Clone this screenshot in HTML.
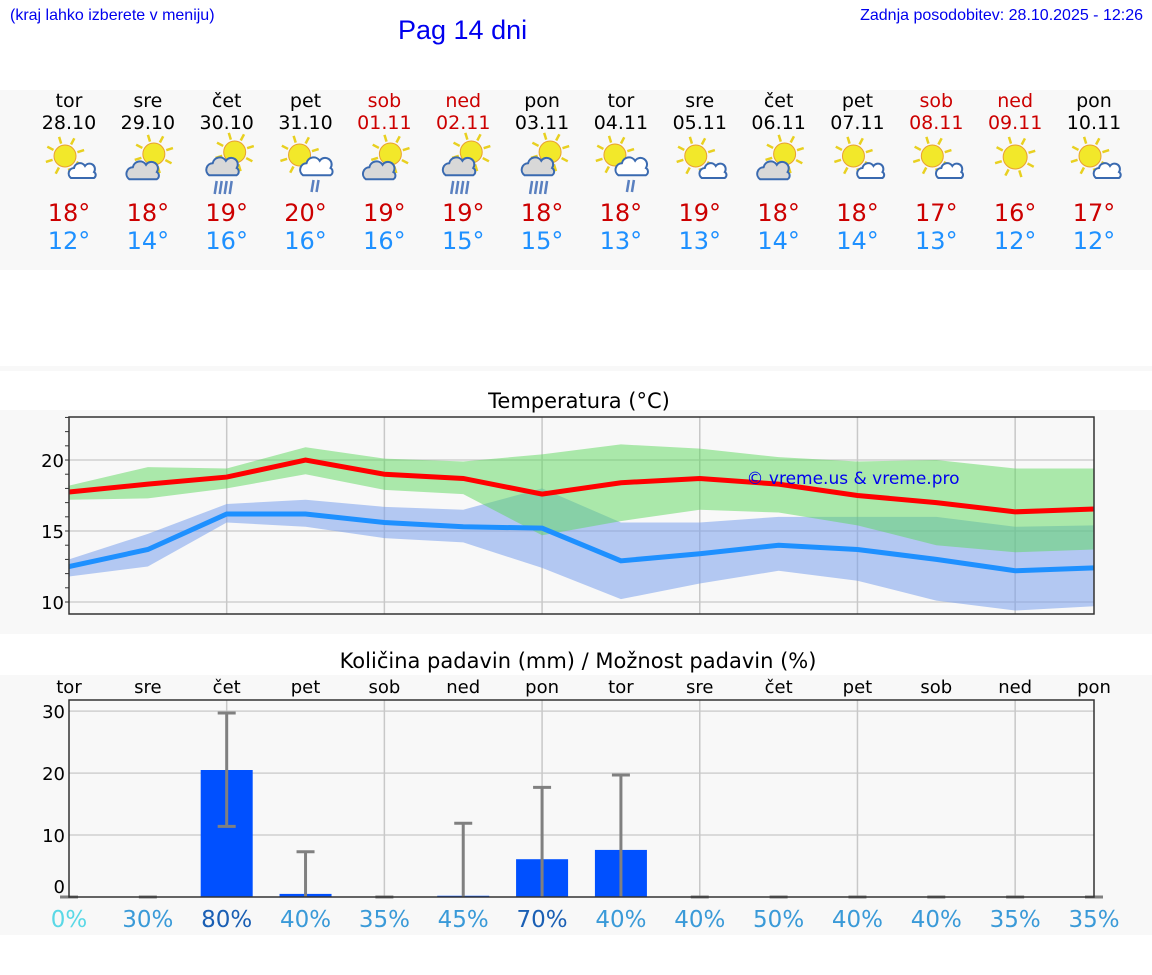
<!DOCTYPE html>
<html><head><meta charset="utf-8">
<style>
body{margin:0;background:#fff;width:1152px;height:975px;overflow:hidden;position:relative;font-family:"DejaVu Sans","Liberation Sans",sans-serif}
.hdr{position:absolute;font-family:"Liberation Sans",sans-serif;color:#0000ee}
</style></head><body>
<div class="hdr" style="left:10px;top:7px;font-size:16px">(kraj lahko izberete v meniju)</div>
<div class="hdr" style="left:398px;top:15px;font-size:27px">Pag 14 dni</div>
<div class="hdr" style="right:9px;top:7px;font-size:16px">Zadnja posodobitev: 28.10.2025 - 12:26</div>
<svg id="svg" width="1152" height="975" style="position:absolute;left:0;top:0" font-family="DejaVu Sans, sans-serif">
<rect x="0" y="90" width="1152" height="180" fill="#f8f8f8"/>
<rect x="0" y="366" width="1152" height="5" fill="#f8f8f8"/>
<rect x="0" y="410" width="1152" height="224" fill="#f8f8f8"/>
<rect x="0" y="675" width="1152" height="260" fill="#f8f8f8"/>
<g id="daily"></g>
<text x="579" y="408" font-size="21" text-anchor="middle">Temperatura (°C)</text>
<g id="temp"></g>
<text x="578" y="668" font-size="21" text-anchor="middle">Količina padavin (mm) / Možnost padavin (%)</text>
<g id="precip"></g>
</svg>
<script>
const days=["tor","sre","čet","pet","sob","ned","pon","tor","sre","čet","pet","sob","ned","pon"];
const dates=["28.10","29.10","30.10","31.10","01.11","02.11","03.11","04.11","05.11","06.11","07.11","08.11","09.11","10.11"];
const weekend=[0,0,0,0,1,1,0,0,0,0,0,1,1,0];
const hiLabel=[18,18,19,20,19,19,18,18,19,18,18,17,16,17];
const loLabel=[12,14,16,16,16,15,15,13,13,14,14,13,12,12];
const icons=["sc","cs","r","sr","cs","r","r","sr","sc","cs","sc","sc","s","sc"];
const tMax=[17.75,18.3,18.8,20.0,19.0,18.7,17.6,18.4,18.7,18.3,17.5,17.0,16.35,16.55];
const tMaxHi=[18.2,19.5,19.4,20.9,20.1,19.9,20.4,21.1,20.8,20.2,19.9,20.0,19.4,19.4];
const tMaxLo=[17.2,17.3,18.0,19.0,17.9,17.6,14.7,15.7,16.5,16.3,15.4,14.0,13.5,13.7];
const tMin=[12.5,13.7,16.2,16.2,15.6,15.3,15.2,12.9,13.4,14.0,13.7,13.0,12.2,12.4];
const tMinHi=[13.0,14.8,16.9,17.2,16.7,16.5,18.0,15.6,15.6,16.0,16.0,16.0,15.3,15.4];
const tMinLo=[11.8,12.5,15.6,15.3,14.5,14.2,12.4,10.2,11.3,12.2,11.5,10.1,9.4,9.7];
const rain=[0,0,20.5,0.5,0,0.2,6.1,7.6,0,0,0,0,0,0];
const rainHi=[0,0,29.7,7.3,0,11.9,17.7,19.7,0,0,0,0,0,0];
const rainLo=[0,0,11.4,0,0,0,0,0,0,0,0,0,0,0];
const chance=[0,30,80,40,35,45,70,40,40,50,40,40,35,35];
const tTicks=[10,15,20];
const rTicks=[0,10,20,30];
const NS="http://www.w3.org/2000/svg";
function mk(p,t,a,txt){const e=document.createElementNS(NS,t);for(const k in a)e.setAttribute(k,a[k]);if(txt!==undefined)e.textContent=txt;p.appendChild(e);return e;}
const X0=69,X1=1094;
const xd=i=>X0+(X1-X0)*i/13;
const D=document.getElementById('daily');
function sun(g,cx,cy,r){for(let k=0;k<8;k++){const a=k*Math.PI/4-0.3;mk(g,'line',{x1:cx+Math.cos(a)*(r+2),y1:cy+Math.sin(a)*(r+2),x2:cx+Math.cos(a)*(r+9),y2:cy+Math.sin(a)*(r+9),stroke:'#e8d020','stroke-width':2.5});}mk(g,'circle',{cx:cx,cy:cy,r:r,fill:'#f2e82a',stroke:'#e8a030','stroke-width':1});}
function cloud(g,cx,cy,s,fill){mk(g,'path',{d:`M${cx-s*1.3},${cy+s*0.6} a${s*0.55},${s*0.55} 0 0 1 ${s*0.3},-${s*1.0} a${s*0.6},${s*0.6} 0 0 1 ${s*1.1},-${s*0.2} a${s*0.5},${s*0.5} 0 0 1 ${s*0.9},${s*0.6} a${s*0.35},${s*0.35} 0 0 1 0,${s*0.6} z`,fill:fill,stroke:'#3a6ab0','stroke-width':2});}
for(let i=0;i<14;i++){const x=xd(i),c=weekend[i]?'#cc0000':'#000';
 let t=mk(D,'text',{x:x,y:107,'font-size':19,'text-anchor':'middle',fill:c},days[i]);
 
 t=mk(D,'text',{x:x,y:129,'font-size':19,'text-anchor':'middle',fill:c},dates[i]);
 
 const g=mk(D,'g',{});
 const ic=icons[i];
 if(ic==='sc'){sun(g,x-4,156,11);cloud(g,x+15,172,10,'#fff');}
 else if(ic==='cs'){sun(g,x+6,154,11);cloud(g,x-3,172,12,'#d8d8d8');}
 else if(ic==='s'){sun(g,x,157,12);}
 else if(ic==='r'){sun(g,x+8,152,11);cloud(g,x-2,168,12,'#d8d8d8');for(let k=0;k<4;k++)mk(g,'line',{x1:x-10+k*5,y1:181,x2:x-12+k*5,y2:194,stroke:'#5a80c0','stroke-width':2.5});}
 else {sun(g,x-6,155,11);cloud(g,x+13,168,12,'#fff');for(let k=0;k<2;k++)mk(g,'line',{x1:x+8+k*5,y1:180,x2:x+6+k*5,y2:192,stroke:'#5a80c0','stroke-width':2.5});}
 t=mk(D,'text',{x:x,y:221,'font-size':24,'text-anchor':'middle',fill:'#cc0000'},hiLabel[i]+'°');
 
 t=mk(D,'text',{x:x,y:249,'font-size':24,'text-anchor':'middle',fill:'#1e90ff'},loLabel[i]+'°');
 
}
const T=document.getElementById('temp');
const TY0=417,TY1=614,tmin=9.155,tmax=23.03;
const ty=v=>TY1-(v-tmin)/(tmax-tmin)*(TY1-TY0);
mk(T,'rect',{x:X0,y:TY0,width:X1-X0,height:TY1-TY0,fill:'#f8f8f8'});
for(const v of tTicks){mk(T,'line',{x1:X0,x2:X1,y1:ty(v),y2:ty(v),stroke:'#d0d0d0','stroke-width':1.5});
 const t=mk(T,'text',{x:X0-5,y:ty(v)+7,'font-size':18,'text-anchor':'end'},v);}
for(let v=10;v<=23;v++)mk(T,'line',{x1:X0-4,x2:X0,y1:ty(v),y2:ty(v),stroke:'#333'});
for(let i=2;i<13;i+=2)mk(T,'line',{x1:xd(i),x2:xd(i),y1:TY0,y2:TY1,stroke:'#c8c8c8','stroke-width':1.5});
function band(hi,lo,fill,op,name){let d='';hi.forEach((v,i)=>d+=(i?'L':'M')+xd(i)+','+ty(v));for(let i=lo.length-1;i>=0;i--)d+='L'+xd(i)+','+ty(lo[i]);const p=mk(T,'path',{d:d+'Z',fill:fill,'fill-opacity':op});}
function line(vals,col,name){const p=mk(T,'polyline',{points:vals.map((v,i)=>xd(i)+','+ty(v)).join(' '),fill:'none',stroke:col,'stroke-width':5});}
band(tMinHi,tMinLo,'#7aa0ec',0.55,'min-temp-band');
band(tMaxHi,tMaxLo,'#5cd85c',0.5,'max-temp-band');
line(tMax,'#ff0000','max-temp-line');
line(tMin,'#1e90ff','min-temp-line');
let wm=mk(T,'text',{x:853,y:484,'font-size':17,'text-anchor':'middle',fill:'#0000ee'},'© vreme.us & vreme.pro');

mk(T,'rect',{x:X0,y:TY0,width:X1-X0,height:TY1-TY0,fill:'none',stroke:'#333','stroke-width':1.5});
const P=document.getElementById('precip');
const PY0=700,PY1=897,rmax=31.8;
const ry=v=>PY1-v/rmax*(PY1-PY0);
mk(P,'rect',{x:X0,y:PY0,width:X1-X0,height:PY1-PY0,fill:'#f8f8f8'});
for(const v of rTicks){if(v>0)mk(P,'line',{x1:X0,x2:X1,y1:ry(v),y2:ry(v),stroke:'#d0d0d0','stroke-width':1.5});
 const t=mk(P,'text',{x:X0-4,y:(v?ry(v):ry(v)-11)+7,'font-size':18,'text-anchor':'end'},v);}
for(let i=2;i<13;i+=2)mk(P,'line',{x1:xd(i),x2:xd(i),y1:PY0,y2:PY1,stroke:'#c8c8c8','stroke-width':1.5});
for(let i=0;i<14;i++){const x=xd(i);
 let t=mk(P,'text',{x:x,y:693,'font-size':18,'text-anchor':'middle'},days[i]);
 if(rain[i]>0){const b=mk(P,'rect',{x:x-26,y:ry(rain[i]),width:52,height:PY1-ry(rain[i]),fill:'#0050ff'});}
 const g=mk(P,'g',{stroke:'#808080','stroke-width':3});
 mk(g,'line',{x1:x,x2:x,y1:ry(rainLo[i]),y2:ry(rainHi[i])});
 mk(g,'line',{x1:x-9,x2:x+9,y1:ry(rainHi[i]),y2:ry(rainHi[i])});
 if(rainLo[i]>0)mk(g,'line',{x1:x-9,x2:x+9,y1:ry(rainLo[i]),y2:ry(rainLo[i])});
 const c=chance[i]===0?'#5ad8e6':(chance[i]>=70?'#1a5fb4':'#3a9ad8');
 t=mk(P,'text',{x:x,y:927,'font-size':23,'text-anchor':'middle',fill:c},chance[i]+'%');
}
mk(P,'rect',{x:X0,y:PY0,width:X1-X0,height:PY1-PY0,fill:'none',stroke:'#333','stroke-width':1.5});
</script>
</body></html>
